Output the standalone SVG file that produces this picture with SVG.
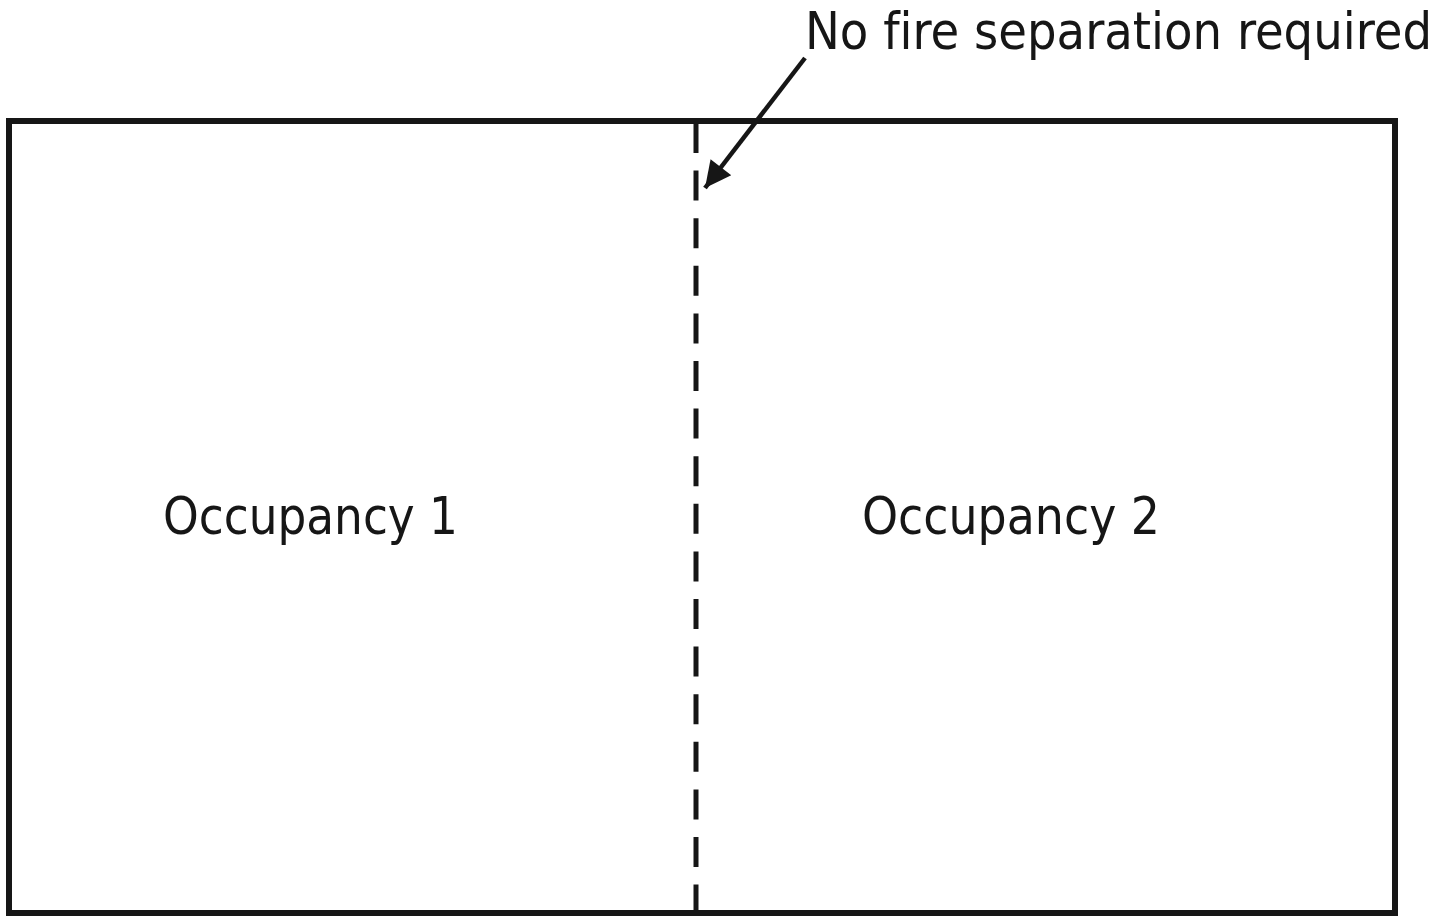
<svg xmlns="http://www.w3.org/2000/svg" width="1442" height="916" viewBox="0 0 1442 916">
  <style>
    .frame { fill: none; stroke: #161616; stroke-width: 6; }
    .wall { fill: none; stroke: #161616; stroke-width: 5; stroke-dasharray: 30 17.6; }
    .leader { fill: none; stroke: #161616; stroke-width: 4.5; }
    .label { font-family: "DejaVu Sans Condensed", "DejaVu Sans", sans-serif; font-size: 52px; fill: #161616; font-variant-ligatures: none; }
  </style>
  <defs>
    <marker id="arrow" viewBox="0 0 10 10" refX="10" refY="5" markerWidth="6.2" markerHeight="5.8" markerUnits="strokeWidth" orient="auto">
      <path d="M0,0 L10,5 L0,10 Z" fill="#161616"/>
    </marker>
  </defs>
  <rect width="1442" height="916" fill="#ffffff"/>

  <!-- building outline -->
  <g id="building">
    <rect class="frame" x="9" y="121" width="1386" height="792"/>
  </g>

  <!-- room labels -->
  <g id="occupancy-1">
    <text class="label" x="163" y="534" textLength="295" lengthAdjust="spacingAndGlyphs">Occupancy 1</text>
  </g>
  <g id="occupancy-2">
    <text class="label" x="862" y="534" textLength="298" lengthAdjust="spacingAndGlyphs">Occupancy 2</text>
  </g>

  <!-- callout text -->
  <g id="callout">
    <text class="label" x="805" y="49" textLength="627" lengthAdjust="spacingAndGlyphs">No fire separation required</text>
  </g>

  <!-- connectors: dashed dividing line and leader arrow -->
  <g id="connectors">
    <line class="wall" x1="696" y1="123" x2="696" y2="913"/>
    <line class="leader" x1="805" y1="58" x2="705" y2="188" marker-end="url(#arrow)"/>
  </g>
</svg>
